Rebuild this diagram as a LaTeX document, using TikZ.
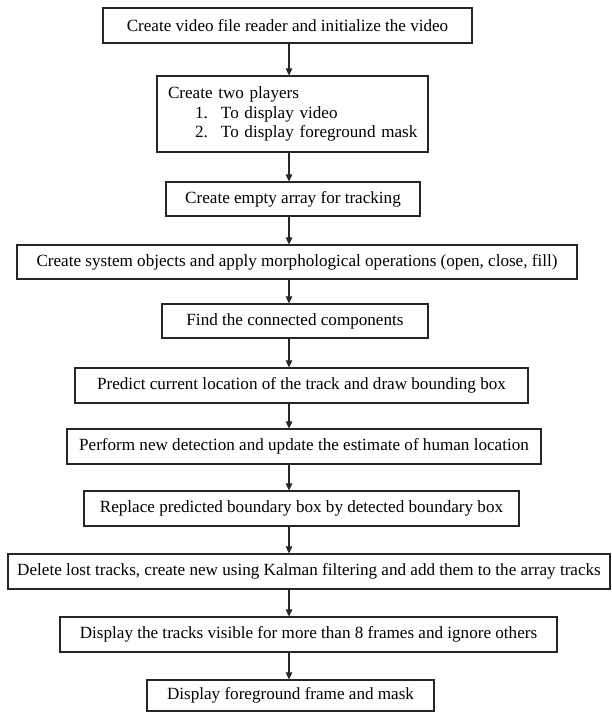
\documentclass[tikz,border=0pt]{standalone}
\usepackage{fontspec}
\setmainfont{Liberation Serif}
\usetikzlibrary{arrows.meta}
\tikzset{
  box/.style={draw=black!85, line width=1.2pt, rectangle, inner sep=0pt, align=center,
    font=\fontsize{17.1}{19.6}\selectfont, text=black},
  flow/.style={draw=black!85, line width=1.1pt, -{Triangle[length=7pt,width=6.5pt]}}
}
\begin{document}
\begin{tikzpicture}[x=1pt,y=-1pt]
\useasboundingbox (0,0) rectangle (611,712);
\coordinate (ax) at (289,0);
\node[box, minimum width=369, minimum height=35] (b1) at (287.5,25.5) {Create video file reader and initialize the video};
\node[box, minimum width=271, minimum height=76, text width=249, align=left] (b2) at (292.5,114)
  {\mbox{Create two players}\\
   \mbox{\hspace*{27pt}\makebox[26pt][l]{1.}To display video}\\
   \mbox{\hspace*{27pt}\makebox[26pt][l]{2.}To display foreground mask}};
\node[box, minimum width=254, minimum height=34] (b3) at (293,199) {Create empty array for tracking};
\node[box, minimum width=560, minimum height=34] (b4) at (297,262) {Create system objects and apply morphological operations (open, close, fill)};
\node[box, minimum width=266, minimum height=34] (b5) at (295,321) {Find the connected components};
\node[box, minimum width=453, minimum height=35] (b6) at (301.5,385.5) {Predict current location of the track and draw bounding box};
\node[box, minimum width=474, minimum height=35] (b7) at (304,446.5) {Perform new detection and update the estimate of human location};
\node[box, minimum width=435, minimum height=35] (b8) at (301.5,508.5) {Replace predicted boundary box by detected boundary box};
\node[box, minimum width=602, minimum height=35] (b9) at (309,571.5) {Delete lost tracks, create new using Kalman filtering and add them to the array tracks};
\node[box, minimum width=497, minimum height=35] (b10) at (308.5,634.5) {Display the tracks visible for more than 8 frames and ignore others};
\node[box, minimum width=287, minimum height=31] (b11) at (290.5,695.5) {Display foreground frame and mask};
\foreach \a/\b in {b1/b2,b2/b3,b3/b4,b4/b5,b5/b6,b6/b7,b7/b8,b8/b9,b9/b10,b10/b11}{
  \draw[flow] (\a.south -| ax) -- (\b.north -| ax);
}
\end{tikzpicture}
\end{document}
